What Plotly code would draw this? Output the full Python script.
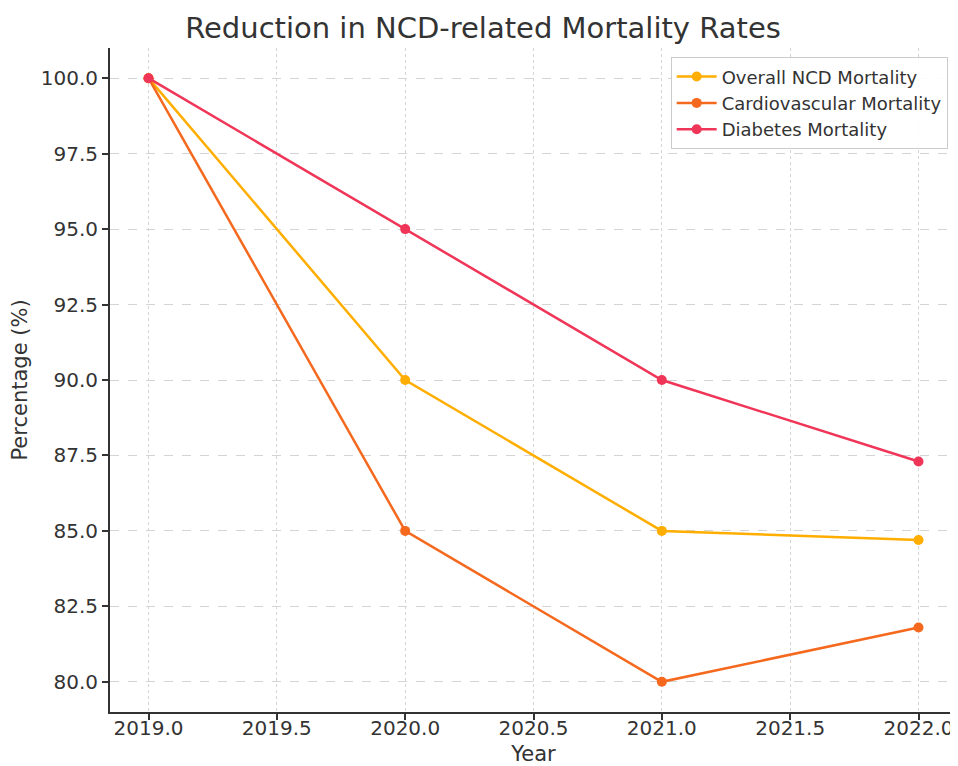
import plotly.graph_objects as go

years = [2019, 2020, 2021, 2022]
overall_ncd = [100, 90, 85, 84.7]
cardiovascular = [100, 85, 80, 81.8]
diabetes = [100, 95, 90, 87.3]

series = [
    ("Overall NCD Mortality", overall_ncd, "#FFAE00"),
    ("Cardiovascular Mortality", cardiovascular, "#F5691E"),
    ("Diabetes Mortality", diabetes, "#F03658"),
]

fig = go.Figure()
for name, values, color in series:
    fig.add_trace(go.Scatter(
        x=years, y=values, mode="lines+markers", name=name,
        line=dict(color=color, width=2.5),
        marker=dict(color=color, size=10),
    ))

axis_common = dict(
    showgrid=True, gridcolor="#d4d4d4", griddash="dot", gridwidth=1,
    showline=True, linecolor="#333333", linewidth=2,
    ticks="outside", ticklen=6, tickcolor="#333333", tickwidth=1.5,
    tickfont=dict(size=20, color="#333333"), zeroline=False,
)

# page body has an 8px margin, so the figure is sized/offset to compensate
fig.update_layout(
    width=950, height=758,
    font=dict(family="DejaVu Sans", color="#333333"),
    title=dict(text="Reduction in NCD-related Mortality Rates", x=0.5, xanchor="center",
               y=0.974, yanchor="middle", font=dict(size=29, color="#333333")),
    plot_bgcolor="white", paper_bgcolor="white",
    margin=dict(l=102, r=1, t=40, b=54),
    xaxis=dict(axis_common, range=[2018.85, 2022.15], dtick=0.5, tick0=2019, tickformat=".1f",
               ticklabelstandoff=-9, automargin=False,
               title=dict(text="Year", font=dict(size=21), standoff=18)),
    yaxis=dict(axis_common, range=[79, 101], dtick=2.5, tick0=80, tickformat=".1f",
               griddash="dash",
               title=dict(text="Percentage (%)", font=dict(size=21), standoff=10)),
    legend=dict(x=0.989, xanchor="right", y=0.986, yanchor="top",
                bordercolor="#cccccc", borderwidth=1, bgcolor="rgba(255,255,255,0.9)",
                font=dict(size=18, color="#333333"), itemwidth=40, tracegroupgap=0),
)

fig.write_html("out.html")
